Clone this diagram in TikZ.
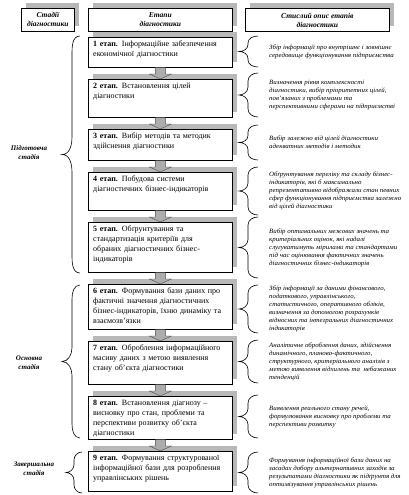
\documentclass[tikz,border=0pt]{standalone}
\usepackage{fontspec}
\setmainfont{Liberation Serif}
\newfontfamily\descfont{Liberation Serif}[FakeStretch=1.06]
\usetikzlibrary{shadows,calc}
\definecolor{shd}{gray}{0.72}
\definecolor{arrfill}{gray}{0.68}
\newcommand\jl[1]{\makebox[\hsize][s]{#1}}
\newcommand\curlybr[6]{\draw[bracestyle] (#1,#4) to[out=180,in=90] (#2,{#4+#6}) -- (#2,{(#4+#5)/2-#6}) to[out=-90,in=0] (#3,{(#4+#5)/2}) to[out=0,in=90] (#2,{(#4+#5)/2+#6}) -- (#2,{#5-#6}) to[out=-90,in=180] (#1,#5);}
\newcommand\downarr[2]{\filldraw[fill=arrfill,draw=gray!60!black,line width=0.4pt] ($(#1.south)+(-5,0)$) -- ($(#2.north)+(-5,-5)$) -- ($(#2.north)+(-11,-5)$) -- (#2.north) -- ($(#2.north)+(11,-5)$) -- ($(#2.north)+(5,-5)$) -- ($(#1.south)+(5,0)$) -- cycle;}
\begin{document}
\begin{tikzpicture}[x=1pt,y=-1pt,
  bracestyle/.style={line width=0.6pt},
  headbox/.style={draw,fill=white,line width=0.7pt,anchor=north west,inner sep=0pt,align=center,
    font=\fontsize{7.5}{9}\selectfont\bfseries\itshape,
    drop shadow={shadow xshift=5pt,shadow yshift=5pt,fill=shd,opacity=1}},
  stagebox/.style={draw,fill=white,line width=0.7pt,anchor=north west,inner sep=0pt,minimum width=144pt,
    drop shadow={shadow xshift=5pt,shadow yshift=5pt,fill=shd,opacity=1}},
  stagetext/.style={anchor=north west,inner xsep=5pt,inner ysep=4pt,text width=134pt,align=left,
    font=\fontsize{8}{10}\selectfont},
  desc/.style={anchor=west,inner sep=0pt,align=left,font=\descfont\fontsize{6.5}{8}\selectfont\itshape},
  stagelabel/.style={inner sep=0pt,align=center,font=\fontsize{7}{9}\selectfont\bfseries\itshape}]
\useasboundingbox (0,0) rectangle (408,495);
\fill[white] (0,0) rectangle (408,495);

% headers
\node[headbox,minimum width=53pt,minimum height=23pt] (h1) at (21,8) {Стадії\\діагностики};
\node[headbox,minimum width=144pt,minimum height=23pt] (h2) at (88,8) {Етапи\\діагностики};
\node[headbox,minimum width=144pt,minimum height=23pt] (h3) at (245,8) {Стислий опис етапів\\діагностики};

% stage boxes
\node[stagebox,minimum height=30pt] (b1) at (88,37) {};
\node[stagebox,minimum height=38pt] (b2) at (88,79) {};
\node[stagebox,minimum height=31pt] (b3) at (88,129) {};
\node[stagebox,minimum height=38pt] (b4) at (88,172) {};
\node[stagebox,minimum height=50pt] (b5) at (88,222) {};
\node[stagebox,minimum height=45pt] (b6) at (88,284) {};
\node[stagebox,minimum height=43pt] (b7) at (88,341) {};
\node[stagebox,minimum height=43pt] (b8) at (88,396) {};
\node[stagebox,minimum height=40pt] (b9) at (88,451) {};

\node[stagetext] (t1) at (b1.north west) {\jl{\textbf{1 етап.} Інформаційне забезпечення}\\економічної діагностики};
\node[stagetext] (t2) at (b2.north west) {\jl{\textbf{2 етап.} Встановлення цілей}\\діагностики};
\node[stagetext] (t3) at (b3.north west) {\jl{\textbf{3 етап.} Вибір методів та методик}\\здійснення діагностики};
\node[stagetext] (t4) at (b4.north west) {\jl{\textbf{4 етап.} Побудова системи}\\діагностичних бізнес-індикаторів};
\node[stagetext] (t5) at (b5.north west) {\jl{\textbf{5 етап.} Обґрунтування та}\\\jl{стандартизація критеріїв для}\\\jl{обраних діагностичних бізнес-}\\індикаторів};
\node[stagetext] (t6) at (b6.north west) {\jl{\textbf{6 етап.} Формування бази даних про}\\\jl{фактичні значення діагностичних}\\\jl{бізнес-індикаторів, їхню динаміку та}\\взаємозв’язки};
\node[stagetext] (t7) at (b7.north west) {\jl{\textbf{7 етап.} Оброблення інформаційного}\\\jl{масиву даних з метою виявлення}\\стану об’єкта діагностики};
\node[stagetext] (t8) at (b8.north west) {\jl{\textbf{8 етап.} Встановлення діагнозу –}\\\jl{висновку про стан, проблеми та}\\\jl{перспективи розвитку об’єкта}\\діагностики};
\node[stagetext] (t9) at (b9.north west) {\jl{\textbf{9 етап.} Формування структурованої}\\\jl{інформаційної бази для розроблення}\\управлінських рішень};

% arrows
\downarr{b1}{b2}
\downarr{b2}{b3}
\downarr{b3}{b4}
\downarr{b4}{b5}
\downarr{b5}{b6}
\downarr{b6}{b7}
\downarr{b7}{b8}
\downarr{b8}{b9}

% left braces and labels
\curlybr{80}{72}{62}{36}{273}{18}
\curlybr{80}{72}{62}{285}{438}{14}
\curlybr{82}{74}{66}{452}{493}{8}
\node[stagelabel] (s1) at (29,153) {Підготовча\\стадія};
\node[stagelabel] (s2) at (29,363) {Основна\\стадія};
\node[stagelabel] (s3) at (34,469) {Завершальна\\стадія};

% right braces
\curlybr{258}{248}{239}{36}{67}{7}
\curlybr{258}{248}{239}{73}{117}{8}
\curlybr{258}{248}{239}{125}{160}{7}
\curlybr{258}{248}{239}{167}{215}{8}
\curlybr{258}{248}{239}{217}{278}{8}
\curlybr{258}{248}{239}{285}{333}{8}
\curlybr{258}{248}{239}{340}{383}{8}
\curlybr{258}{248}{239}{395}{438}{8}
\curlybr{258}{248}{239}{452}{493}{8}

% descriptions
\node[desc] (d1) at (269,51.5) {Збір інформації про внутрішнє і зовнішнє\\середовище функціонування підприємства};
\node[desc] (d2) at (269,95) {Визначення рівня комплексності\\діагностики, вибір пріоритетних цілей,\\пов’язаних з проблемами та\\перспективними сферами на підприємстві};
\node[desc] (d3) at (269,142.5) {Вибір залежно від цілей діагностики\\адекватних методів і методик};
\node[desc] (d4) at (269,191) {Обґрунтування переліку та складу бізнес-\\індикаторів, які б максимально\\репрезентативно відображали стан певних\\сфер функціонування підприємства залежно\\від цілей діагностики};
\node[desc] (d5) at (269,247.5) {Вибір оптимальних межових значень та\\критеріальних оцінок, які надалі\\слугуватимуть мірилами та стандартами\\під час оцінювання фактичних значень\\діагностичних бізнес-індикаторів};
\node[desc] (d6) at (269,309) {Збір інформації за даними фінансового,\\податкового, управлінського,\\статистичного, оперативного обліків,\\визначення за допомогою розрахунків\\відносних та інтегральних діагностичних\\індикаторів};
\node[desc] (d7) at (269,361.5) {Аналітичне оброблення даних, здійснення\\динамічного, планово-фактичного,\\структурного, критеріального аналізів з\\метою виявлення відхилень та~ небажаних\\тенденцій};
\node[desc] (d8) at (269,416.5) {Виявлення реального стану речей,\\формулювання висновку про проблеми та\\перспективи розвитку};
\node[desc] (d9) at (269,472.5) {Формування інформаційної бази даних на\\засадах добору альтернативних заходів за\\результатами діагностики як підґрунтя для\\оптимізування управлінських рішень};
\end{tikzpicture}
\end{document}
